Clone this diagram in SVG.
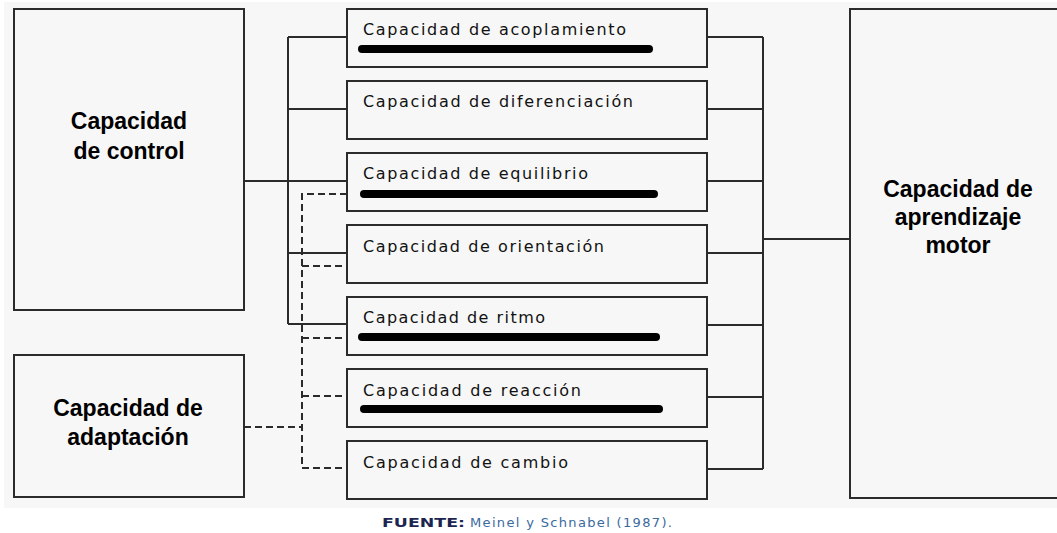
<svg xmlns="http://www.w3.org/2000/svg" width="1057" height="533" viewBox="0 0 1057 533">
<style>
.box{fill:none;stroke:#2b2b2b;stroke-width:2}
.ln{fill:none;stroke:#2b2b2b;stroke-width:2}
.dash{fill:none;stroke:#2b2b2b;stroke-width:2;stroke-dasharray:7,4}
.bar{stroke:#000;stroke-width:8;stroke-linecap:round}
.lbl{font-family:"DejaVu Sans",Verdana,sans-serif;font-size:16px;fill:#111}
.big{font-family:"Liberation Sans",Arial,sans-serif;font-size:23px;font-weight:bold;fill:#000;text-anchor:middle}
.cap{font-family:"DejaVu Sans",Verdana,sans-serif;font-size:13px}
</style>
<rect x="4" y="2" width="1053" height="506" fill="#f7f7f7"/>
<g id="connectors">
<path class="ln" d="M244,181H288M288,37V324M288,37H347M288,109H347M288,181H347M288,253H347M288,324H347"/>
<path class="ln" d="M707,37H763M707,109H763M707,181H763M707,253H763M707,325H763M707,397H763M707,469H763M763,37V469M763,239H850"/>
<path class="dash" d="M244,427H302M347,194H302V468H347M302,266H347M302,338H347M302,396H347"/>
</g>
<g id="control">
<rect class="box" x="14" y="9" width="230" height="301"/>
<text class="big" x="129" y="129">Capacidad</text>
<text class="big" x="129" y="159">de control</text>
</g>
<g id="adaptacion">
<rect class="box" x="14" y="355" width="230" height="142"/>
<text class="big" x="128" y="416">Capacidad de</text>
<text class="big" x="128" y="445">adaptación</text>
</g>
<g id="aprendizaje">
<rect class="box" x="850" y="9" width="220" height="489"/>
<text class="big" x="958" y="197">Capacidad de</text>
<text class="big" x="958" y="225">aprendizaje</text>
<text class="big" x="958" y="253">motor</text>
</g>
<g id="acoplamiento">
<rect class="box" x="347" y="9" width="360" height="58"/>
<text class="lbl" x="363" y="35" textLength="263" lengthAdjust="spacing">Capacidad de acoplamiento</text>
<line class="bar" x1="362" y1="49" x2="649" y2="49"/>
</g>
<g id="diferenciacion">
<rect class="box" x="347" y="81" width="360" height="58"/>
<text class="lbl" x="363" y="107" textLength="270" lengthAdjust="spacing">Capacidad de diferenciación</text>
</g>
<g id="equilibrio">
<rect class="box" x="347" y="153" width="360" height="58"/>
<text class="lbl" x="363" y="179" textLength="225" lengthAdjust="spacing">Capacidad de equilibrio</text>
<line class="bar" x1="364" y1="194" x2="654" y2="194"/>
</g>
<g id="orientacion">
<rect class="box" x="347" y="225" width="360" height="58"/>
<text class="lbl" x="363" y="252" textLength="241" lengthAdjust="spacing">Capacidad de orientación</text>
</g>
<g id="ritmo">
<rect class="box" x="347" y="297" width="360" height="58"/>
<text class="lbl" x="363" y="323" textLength="182" lengthAdjust="spacing">Capacidad de ritmo</text>
<line class="bar" x1="362" y1="337" x2="656" y2="337"/>
</g>
<g id="reaccion">
<rect class="box" x="347" y="369" width="360" height="58"/>
<text class="lbl" x="363" y="396" textLength="218" lengthAdjust="spacing">Capacidad de reacción</text>
<line class="bar" x1="364" y1="409" x2="659" y2="409"/>
</g>
<g id="cambio">
<rect class="box" x="347" y="441" width="360" height="58"/>
<text class="lbl" x="363" y="468" textLength="205" lengthAdjust="spacing">Capacidad de cambio</text>
</g>
<g id="caption">
<text class="cap" x="382" y="527" font-weight="bold" fill="#1c2450" textLength="83" lengthAdjust="spacingAndGlyphs">FUENTE:</text>
<text class="cap" x="470" y="527" fill="#3a6a9e" textLength="202" lengthAdjust="spacing">Meinel y Schnabel (1987).</text>
</g>
</svg>
